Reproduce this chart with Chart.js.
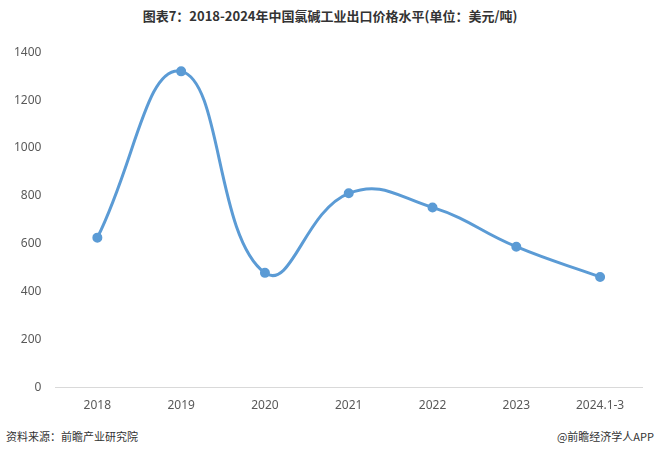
<!DOCTYPE html>
<html>
<head>
<meta charset="utf-8">
<script src="https://cdn.jsdelivr.net/npm/chart.js@4/dist/chart.umd.min.js"></script>
<style>
  html, body { margin: 0; padding: 0; background: #fff; }
  #wrap { position: relative; width: 660px; height: 456px; font-family: "Noto Sans CJK SC", sans-serif; }
  #title { position: absolute; top: 6px; left: 0; width: 660px; text-align: center; font-size: 13px; font-weight: bold; color: #333; }
  #src { position: absolute; left: 6px; top: 428px; font-size: 11px; color: #333; }
  #brand { position: absolute; right: 6px; top: 428px; font-size: 11px; color: #333; }
  #box { position: absolute; left: 0; top: 31px; width: 660px; height: 385px; }
</style>
</head>
<body>
<div id="wrap">
  <div id="title">图表7：2018-2024年中国氯碱工业出口价格水平(单位：美元/吨)</div>
  <div id="box"><canvas id="myChart"></canvas></div>
  <div id="src">资料来源：前瞻产业研究院</div>
  <div id="brand">@前瞻经济学人APP</div>
</div>
<script>
const years = ['2018', '2019', '2020', '2021', '2022', '2023', '2024.1-3'];
const prices = [626, 1320, 479, 811, 752, 588, 462];
const yTicks = [0, 200, 400, 600, 800, 1000, 1200, 1400];

const myLineChart = new Chart('myChart', {
  type: 'line',
  data: {
    labels: years,
    datasets: [
      {
        data: prices,
        borderColor: '#5b9bd5',
        backgroundColor: '#5b9bd5',
        borderWidth: 3,
        pointRadius: 3.5,
        tension: 0.45,
        fill: false,
      },
    ],
  },
  options: {
    responsive: true,
    maintainAspectRatio: false,
    animation: false,
    layout: { padding: { left: 0, right: 18, top: 20, bottom: 0 } },
    plugins: { legend: { display: false }, tooltip: { enabled: false } },
    scales: {
      x: {
        offset: true,
        grid: { display: false },
        border: { color: '#d9d9d9', width: 1 },
        ticks: { color: '#595959', font: { size: 12, family: 'Noto Sans' }, padding: 3 },
      },
      y: {
        min: 0,
        max: 1400,
        afterBuildTicks: (axis) => { axis.ticks = yTicks.map((v) => ({ value: v })); },
        grid: { display: false, drawTicks: false },
        border: { display: false },
        ticks: {
          color: '#595959',
          font: { size: 12, family: 'Noto Sans' },
          padding: 14,
          callback: (v) => String(v),
        },
      },
    },
  },
});
</script>
</body>
</html>
